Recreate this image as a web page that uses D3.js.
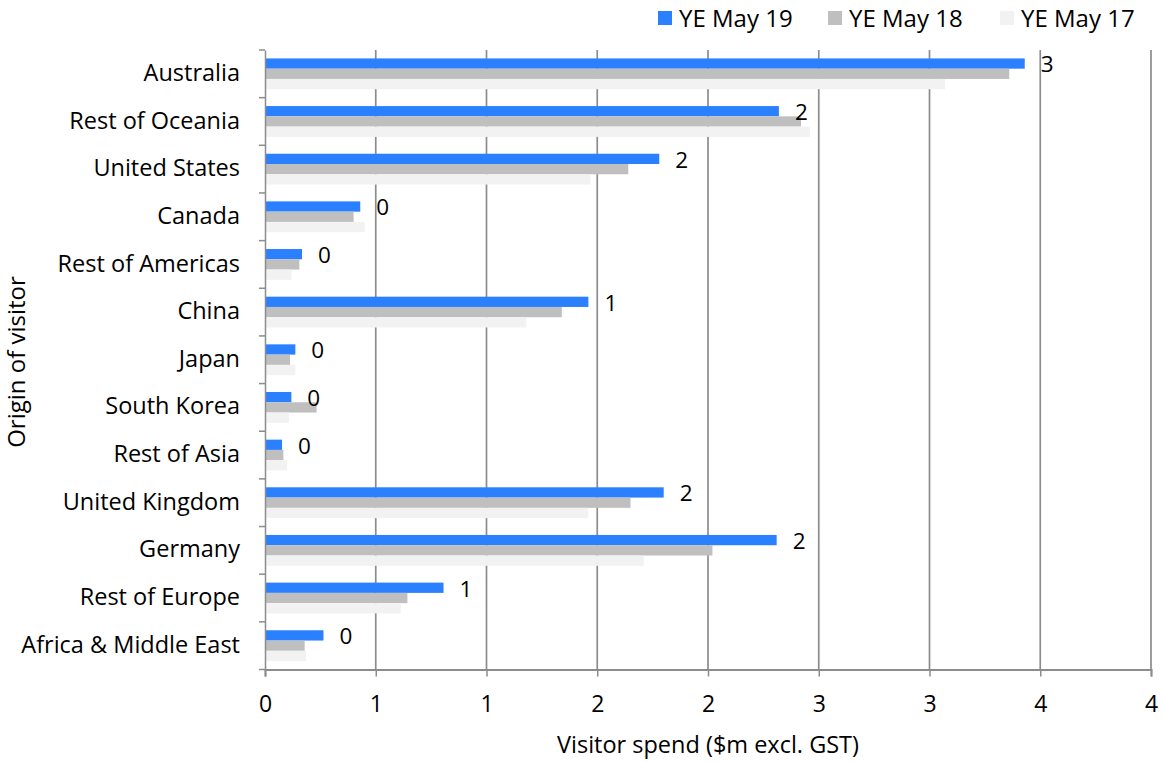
<!DOCTYPE html>
<html>
<head>
<meta charset="utf-8">
<script src="https://cdn.jsdelivr.net/npm/d3@7"></script>
<style>
  html, body { margin: 0; padding: 0; background: #fff; }
  svg { display: block; font-family: "Open Sans", sans-serif; }
</style>
</head>
<body>
<svg id="chart" width="1163" height="762"></svg>
<script>
const categories = ["Australia", "Rest of Oceania", "United States", "Canada", "Rest of Americas", "China", "Japan", "South Korea", "Rest of Asia", "United Kingdom", "Germany", "Rest of Europe", "Africa & Middle East"];
const seriesNames = ["YE May 19", "YE May 18", "YE May 17"];
const ye19 = [3.43, 2.32, 1.78, 0.43, 0.167, 1.46, 0.137, 0.119, 0.077, 1.80, 2.31, 0.806, 0.264];
const ye18 = [3.36, 2.42, 1.64, 0.40, 0.155, 1.34, 0.113, 0.233, 0.083, 1.65, 2.02, 0.643, 0.179];
const ye17 = [3.07, 2.46, 1.47, 0.45, 0.12, 1.18, 0.137, 0.108, 0.10, 1.46, 1.71, 0.613, 0.185];
const xTickValues = [0, 0.5, 1, 1.5, 2, 2.5, 3, 3.5, 4];
const xTickLabels = ["0", "1", "1", "2", "2", "3", "3", "4", "4"];
const colors = ["#2a80ff", "#bfbfbf", "#f2f2f2"];

(function () {
const seriesValues = [ye19, ye18, ye17];
const svg = d3.select("#chart");
const mLeft = 265, mRight = 1151, mTop = 50, mBottom = 669.5;

const x = d3.scaleLinear().domain([0, 4]).range([mLeft, mRight]);
const y = d3.scaleBand().domain(categories).range([mTop, mBottom]).paddingInner(0).paddingOuter(0);
const y1 = d3.scaleBand().domain(seriesNames).range([0, y.bandwidth()]).paddingInner(0).paddingOuter(0.82);

const gridColor = "#8c8c8c";
const fontSize = 23.5;

// gridlines
svg.append("g").selectAll("line").data(xTickValues.slice(1)).join("line")
  .attr("x1", d => x(d)).attr("x2", d => x(d))
  .attr("y1", mTop).attr("y2", mBottom)
  .attr("stroke", gridColor).attr("stroke-width", 1.7);

// bars
const groups = svg.append("g").selectAll("g").data(categories).join("g")
  .attr("transform", c => `translate(0,${y(c)})`);
groups.selectAll("rect").data((c, i) => seriesNames.map((s, k) => ({ s, v: seriesValues[k][i], k }))).join("rect")
  .attr("x", x(0))
  .attr("y", d => y1(d.s))
  .attr("width", d => x(d.v) - x(0))
  .attr("height", y1.bandwidth())
  .attr("fill", d => colors[d.k]);

// value labels on YE May 19
const fmt = d3.format(".0f");
svg.append("g").selectAll("text").data(categories).join("text")
  .attr("x", (c, i) => x(ye19[i]) + 16)
  .attr("y", c => y(c) + y1(seriesNames[0]) + y1.bandwidth() / 2 + 1)
  .attr("dy", "0.35em")
  .attr("font-size", 22.5)
  .attr("fill", "#000")
  .text((c, i) => fmt(ye19[i]));

// x axis
const xAxis = d3.axisBottom(x).tickValues(xTickValues).tickFormat((d, i) => xTickLabels[i]).tickSize(7).tickPadding(19);
const gx = svg.append("g").attr("transform", `translate(0,${mBottom})`).call(xAxis);
gx.select(".domain").attr("stroke", gridColor).attr("stroke-width", 2);
gx.selectAll(".tick line").attr("stroke", gridColor).attr("stroke-width", 1.5);
gx.selectAll(".tick text").attr("font-size", 23).attr("fill", "#000").attr("font-family", "Open Sans, sans-serif");

// y axis
const gy = svg.append("g").attr("transform", `translate(${mLeft},0)`)
  .call(d3.axisLeft(y).tickSize(0).tickPadding(25));
gy.select(".domain").attr("stroke", gridColor).attr("stroke-width", 1.5);
gy.selectAll(".tick text").attr("font-size", fontSize).attr("fill", "#000").attr("font-family", "Open Sans, sans-serif").attr("dy", "0.3em");
// category boundary ticks
const bounds = categories.map(c => y(c)).concat([mBottom]);
svg.append("g").selectAll("line").data(bounds).join("line")
  .attr("x1", mLeft - 6).attr("x2", mLeft)
  .attr("y1", d => d).attr("y2", d => d)
  .attr("stroke", gridColor).attr("stroke-width", 1.5);

// axis titles
svg.append("text")
  .attr("x", (mLeft + mRight) / 2)
  .attr("y", 745).attr("dy", "0.35em")
  .attr("text-anchor", "middle")
  .attr("font-size", 23.5).attr("fill", "#000")
  .text("Visitor spend ($m excl. GST)");
svg.append("text")
  .attr("transform", `translate(17,362) rotate(-90)`)
  .attr("dy", "0.35em")
  .attr("text-anchor", "middle")
  .attr("font-size", 24).attr("fill", "#000")
  .text("Origin of visitor");

// legend
const legendX = [658, 828, 1000];
const lg = svg.append("g").selectAll("g").data(seriesNames).join("g")
  .attr("transform", (d, i) => `translate(${legendX[i]},0)`);
lg.append("rect").attr("x", 0).attr("y", 11).attr("width", 14).attr("height", 14)
  .attr("fill", (d, i) => colors[i]);
lg.append("text").attr("x", 21).attr("y", 19).attr("dy", "0.35em")
  .attr("font-size", 24).attr("fill", "#000")
  .text(d => d);
})();
</script>
</body>
</html>
